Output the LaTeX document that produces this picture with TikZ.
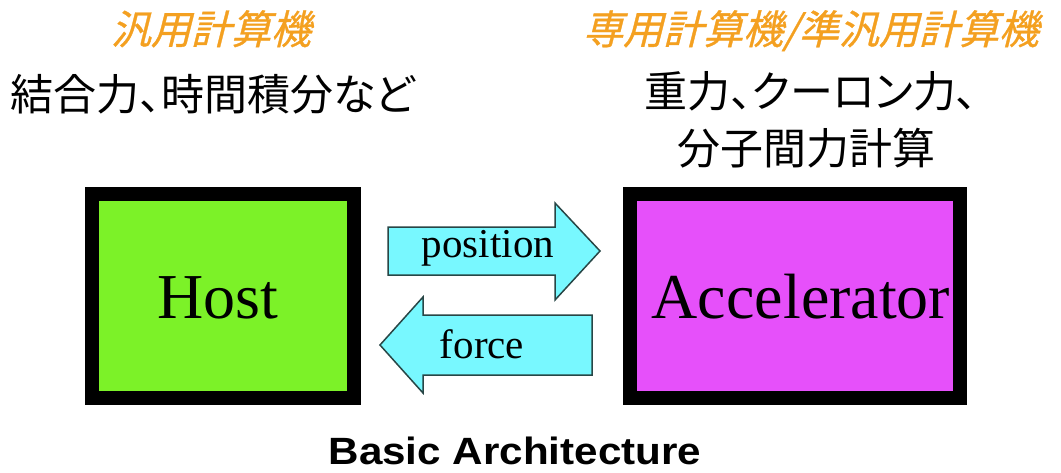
\documentclass[tikz,border=0pt]{standalone}
\usepackage{fontspec}
\setmainfont{Liberation Serif}
\newfontfamily\jp[RawFeature=+palt]{Noto Sans CJK JP}
\newfontfamily\jpsl[RawFeature=+palt,FakeSlant=0.25,FakeBold=0.8]{Noto Sans CJK JP}
\newfontfamily\capfont[FakeStretch=1.11]{Liberation Sans}
\definecolor{hostgreen}{RGB}{124,242,40}
\definecolor{accmagenta}{RGB}{230,80,250}
\definecolor{arrowcyan}{RGB}{120,248,255}
\definecolor{arrowedge}{RGB}{40,70,70}
\definecolor{titleorange}{RGB}{244,160,32}
\begin{document}
\begin{tikzpicture}[x=1pt,y=-1pt,
  unitbox/.style={draw=black,line width=14pt,inner sep=0pt,minimum height=204pt},
  boxlabel/.style={anchor=base,inner sep=0pt,font=\fontsize{64}{70}\selectfont},
  blockarrow/.style={fill=arrowcyan,draw=arrowedge,line width=1.5pt,line join=miter},
  arrowlabel/.style={anchor=base,inner sep=0pt,font=\fontsize{41}{46}\selectfont},
  jptitle/.style={anchor=base,inner sep=0pt,text=titleorange,font=\jpsl\fontsize{40}{46}\selectfont},
  jptext/.style={anchor=base,inner sep=0pt,text=black,font=\jp\fontsize{43}{50}\selectfont},
  caption/.style={anchor=base,inner sep=0pt,font=\capfont\bfseries\fontsize{38}{44}\selectfont}]
\path[fill=white] (0,0) rectangle (1061,472);
\useasboundingbox (0,0) rectangle (1061,472);

% titles
\node[jptitle] (lefttitle) at (211,44) {汎用計算機};
\node[jptitle] (righttitle) at (811,44) {専用計算機/準汎用計算機};
\node[jptext] (lefttext) at (213,110) {結合力、時間積分など};
\node[jptext] (righttexta) at (811,107) {重力、クーロン力、};
\node[jptext] (righttextb) at (806,164) {分子間力計算};

% boxes
\node[unitbox,fill=hostgreen,minimum width=262pt] (host) at (223,296) {};
\node[boxlabel] (hostlabel) at (218,318) {Host};
\node[unitbox,fill=accmagenta,minimum width=330pt] (acc) at (795,296) {};
\node[boxlabel] (acclabel) at (801,318) {Accelerator};

% block arrows
\draw[blockarrow] (388,227) -- (555,227) -- (555,203) -- (600,251) -- (555,300) -- (555,275) -- (388,275) -- cycle;
\node[arrowlabel] (poslabel) at (488,257) {position};
\draw[blockarrow] (592,315) -- (423,315) -- (423,297) -- (380,345) -- (423,393) -- (423,375) -- (592,375) -- cycle;
\node[arrowlabel] (forcelabel) at (482,358) {force};

\node[caption] (cap) at (515,464) {Basic Architecture};
\end{tikzpicture}
\end{document}
